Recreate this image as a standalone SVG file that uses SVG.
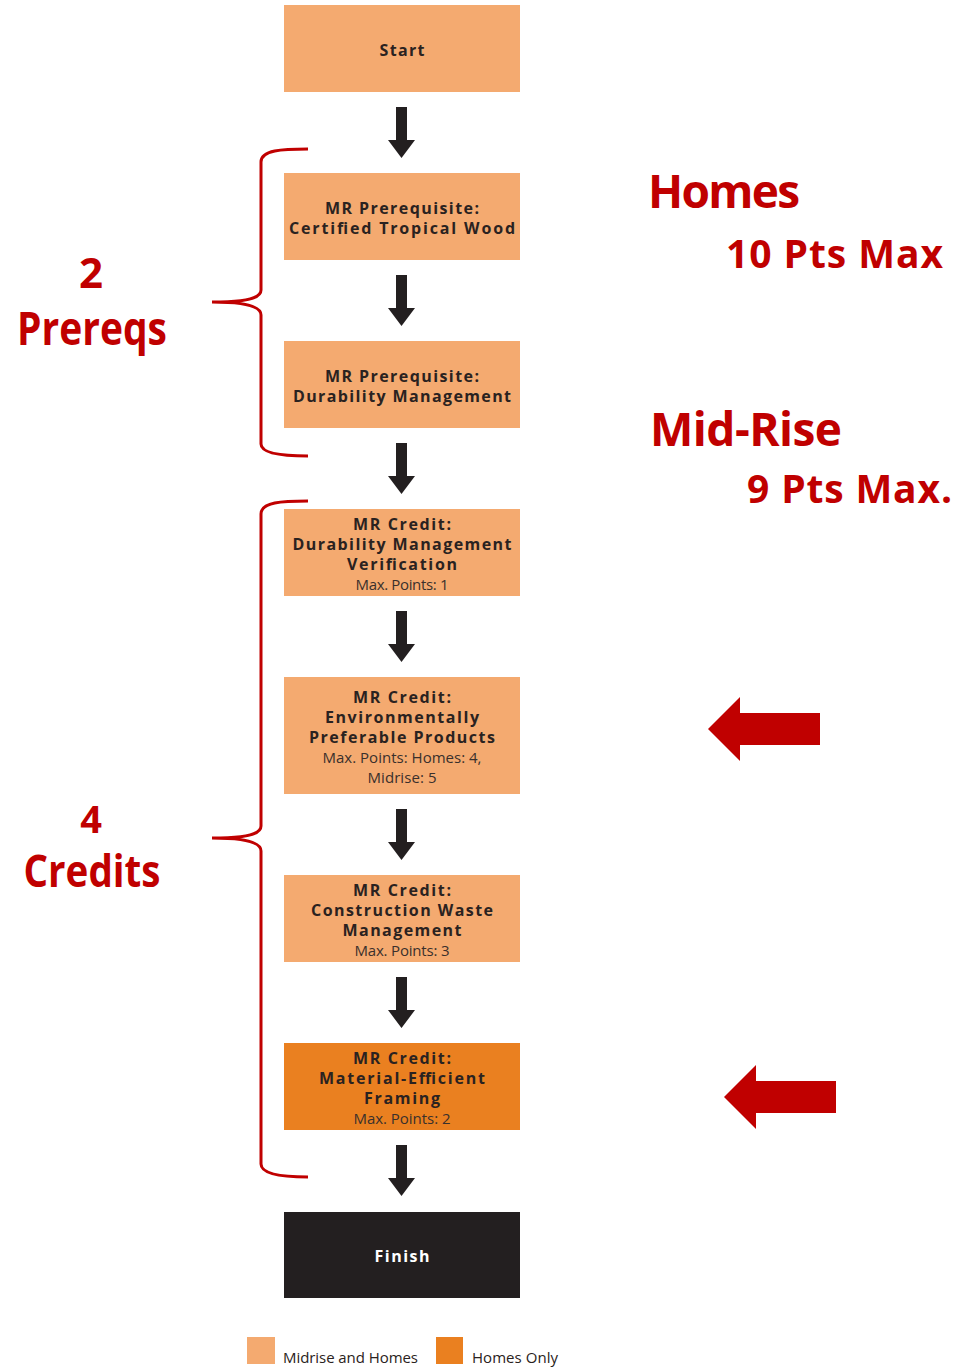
<svg xmlns="http://www.w3.org/2000/svg" width="966" height="1368" viewBox="0 0 966 1368">
<style>
.box{fill:#F4AA70;}
.box2{fill:#EA8020;}
.fin{fill:#231F20;}
.t{font-family:"Open Sans","DejaVu Sans",sans-serif;font-weight:700;font-size:16px;fill:#2A2220;text-anchor:middle;}
.m{font-family:"Open Sans","DejaVu Sans",sans-serif;font-weight:400;font-size:15px;fill:#3A302C;text-anchor:middle;}
.w{fill:#FFFFFF;}
.r{font-family:"Open Sans","Liberation Sans",sans-serif;font-weight:700;fill:#C00000;}
.rc{text-anchor:middle;}
.arr{fill:#231F20;}
.br{fill:none;stroke:#C00000;stroke-width:3;}
.ra{fill:#C00000;}
.lg{font-family:"Open Sans","DejaVu Sans",sans-serif;font-weight:400;font-size:15px;fill:#2A2220;}
</style>

<g id="connectors">
<path class="arr" d="M396,107H407V140H415L401.5,158L388,140H396Z"/>
<path class="arr" d="M396,275H407V308H415L401.5,326L388,308H396Z"/>
<path class="arr" d="M396,443H407V476H415L401.5,494L388,476H396Z"/>
<path class="arr" d="M396,611H407V644H415L401.5,662L388,644H396Z"/>
<path class="arr" d="M396,809H407V842H415L401.5,860L388,842H396Z"/>
<path class="arr" d="M396,977H407V1010H415L401.5,1028L388,1010H396Z"/>
<path class="arr" d="M396,1145H407V1178H415L401.5,1196L388,1178H396Z"/>
</g>

<g id="start">
<rect class="box" x="284" y="5" width="236" height="87"/>
<text class="t" x="402" y="56" textLength="45">Start</text>
</g>

<g id="prereq-wood">
<rect class="box" x="284" y="173" width="236" height="87"/>
<text class="t" x="402" y="214" textLength="154">MR Prerequisite:</text>
<text class="t" x="402" y="234" textLength="226">Certified Tropical Wood</text>
</g>

<g id="prereq-durability">
<rect class="box" x="284" y="341" width="236" height="87"/>
<text class="t" x="402" y="382" textLength="154">MR Prerequisite:</text>
<text class="t" x="402" y="402" textLength="218">Durability Management</text>
</g>

<g id="credit-durability">
<rect class="box" x="284" y="509" width="236" height="87"/>
<text class="t" x="402" y="530" textLength="98">MR Credit:</text>
<text class="t" x="402" y="550" textLength="219">Durability Management</text>
<text class="t" x="402" y="570" textLength="110">Verification</text>
<text class="m" x="402" y="590" textLength="93">Max. Points: 1</text>
</g>

<g id="credit-epp">
<rect class="box" x="284" y="677" width="236" height="117"/>
<text class="t" x="402" y="703" textLength="98">MR Credit:</text>
<text class="t" x="402" y="723" textLength="154">Environmentally</text>
<text class="t" x="402" y="743" textLength="186">Preferable Products</text>
<text class="m" x="402" y="763" textLength="159">Max. Points: Homes: 4,</text>
<text class="m" x="402" y="783" textLength="69">Midrise: 5</text>
</g>

<g id="credit-waste">
<rect class="box" x="284" y="875" width="236" height="87"/>
<text class="t" x="402" y="896" textLength="98">MR Credit:</text>
<text class="t" x="402" y="916" textLength="182">Construction Waste</text>
<text class="t" x="402" y="936" textLength="119">Management</text>
<text class="m" x="402" y="956" textLength="95">Max. Points: 3</text>
</g>

<g id="credit-framing">
<rect class="box2" x="284" y="1043" width="236" height="87"/>
<text class="t" x="402" y="1064" textLength="98">MR Credit:</text>
<text class="t" x="402" y="1084" textLength="166">Material-Efficient</text>
<text class="t" x="402" y="1104" textLength="76">Framing</text>
<text class="m" x="402" y="1124" textLength="97">Max. Points: 2</text>
</g>

<g id="finish">
<rect class="fin" x="284" y="1212" width="236" height="86"/>
<text class="t w" x="402" y="1262" textLength="55">Finish</text>
</g>

<g id="brackets">
<path class="br" d="M308,149C282,149 261,150 261,162V290C261,299 244,302 212,302C244,302 261,306 261,315V444C261,453 282,456 308,456"/>
<path class="br" d="M308,501C282,501 261,502 261,514V826C261,835 244,838 212,838C244,838 261,842 261,851V1164C261,1174 282,1177 308,1177"/>
</g>

<g id="labels">
<text class="r rc" x="91" y="288" font-size="42">2</text>
<text class="r rc" x="92" y="345" font-size="46" textLength="150" lengthAdjust="spacingAndGlyphs">Prereqs</text>
<text class="r rc" x="91" y="833" font-size="38">4</text>
<text class="r rc" x="92" y="887" font-size="45" textLength="137" lengthAdjust="spacingAndGlyphs">Credits</text>
<text class="r" x="648" y="208" font-size="46" textLength="152">Homes</text>
<text class="r" x="726" y="268" font-size="39" textLength="217">10 Pts Max</text>
<text class="r" x="650" y="446" font-size="46" textLength="192">Mid-Rise</text>
<text class="r" x="747" y="503" font-size="39" textLength="205">9 Pts Max.</text>
</g>

<g id="red-arrows">
<polygon class="ra" points="708,729 740,697 740,713 820,713 820,745 740,745 740,761"/>
<polygon class="ra" points="724,1097 756,1065 756,1081 836,1081 836,1113 756,1113 756,1129"/>
</g>

<g id="legend">
<rect class="box" x="247" y="1337" width="28" height="27"/>
<text class="lg" x="283" y="1363" textLength="135">Midrise and Homes</text>
<rect class="box2" x="436" y="1337" width="27" height="27"/>
<text class="lg" x="472" y="1363" textLength="86">Homes Only</text>
</g>
</svg>
